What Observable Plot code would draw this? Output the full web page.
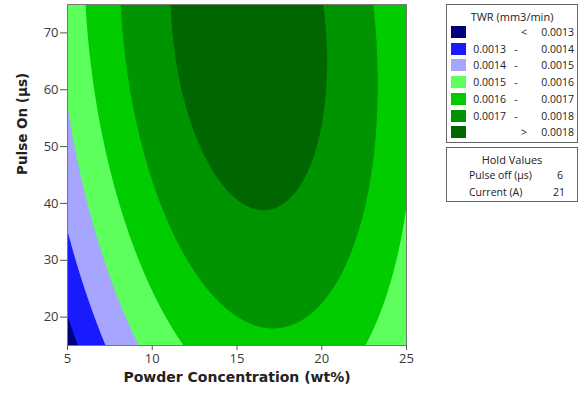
<!DOCTYPE html>
<html>
<head>
<meta charset="utf-8">
<script src="https://cdn.jsdelivr.net/npm/d3@7"></script>
<script src="https://cdn.jsdelivr.net/npm/@observablehq/plot@0.6"></script>
<style>
  html, body { margin: 0; padding: 0; background: #fff; }
  #chart { position: relative; width: 588px; height: 393px; font-family: "Open Sans", sans-serif; color: #222; }
  #chart svg { position: absolute; left: 0; top: 0; }
  .box { position: absolute; left: 446px; width: 132px; border: 1px solid #666; background: #fff; box-sizing: border-box; font-size: 10.5px; }
  .box .title { position: absolute; left: 0; right: 0; text-align: center; font-size: 11px; }
  .row { position: absolute; left: 0; right: 0; height: 12px; line-height: 12px; }
  .sw { position: absolute; left: 4px; top: 0; width: 15px; height: 12px; }
  .lo { position: absolute; right: 71px; text-align: right; }
  .op { position: absolute; left: 64px; width: 10px; text-align: center; }
  .hi { position: absolute; right: 3px; text-align: right; }
  .hname { position: absolute; left: 22px; }
  .hval { position: absolute; text-align: right; }
</style>
</head>
<body>
<div id="chart"></div>
<script>
// Factor ranges and tick labels
const concDomain = [5, 25];
const pulseOnDomain = [15, 75];
const xTicks = [5, 10, 15, 20, 25];
const yTicks = [20, 30, 40, 50, 60, 70];

// TWR contour levels (mm3/min) and band colours, lowest band first
const levels = [0.0013, 0.0014, 0.0015, 0.0016, 0.0017, 0.0018];
const bandColors = ["#00007c", "#1a1aff", "#a6a6ff", "#5cff5c", "#00cc00", "#009400", "#006600"];
const bandLow = ["", "0.0013", "0.0014", "0.0015", "0.0016", "0.0017", ""];
const bandOp = ["<", "-", "-", "-", "-", "-", ">"];
const bandHigh = ["0.0013", "0.0014", "0.0015", "0.0016", "0.0017", "0.0018", "0.0018"];

// Fitted quadratic response surface in coded units u = C - 15, v = T - 45
// terms: const, u, v, u², v², u·v
const modelCenter = [15, 45];
const modelCoefs = [1.81478e-3, 7.9436e-6, 3.1455e-6, -2.837e-6, -5.86e-8, -1.532e-7];

// Factors held constant
const holdNames = ["Pulse off (µs)", "Current (A)"];
const holdValues = [6, 21];

const twr = (x, y) => {
  const u = x - modelCenter[0], v = y - modelCenter[1];
  const [b0, b1, b2, b11, b22, b12] = modelCoefs;
  return b0 + b1 * u + b2 * v + b11 * u * u + b22 * v * v + b12 * u * v;
};

const plot = Plot.plot({
  width: 588,
  height: 393,
  marginTop: 4,
  marginLeft: 67,
  marginRight: 182,
  marginBottom: 48,
  style: { fontFamily: "Open Sans, sans-serif", fontSize: "13px", color: "#3a3a3a", background: "transparent" },
  x: { domain: concDomain },
  y: { domain: pulseOnDomain },
  color: { type: "threshold", domain: levels, range: bandColors },
  marks: [
    Plot.contour({
      fill: twr,
      x1: concDomain[0], x2: concDomain[1],
      y1: pulseOnDomain[0], y2: pulseOnDomain[1],
      thresholds: [0.001, ...levels],
      stroke: "none",
      pixelSize: 1
    }),
    Plot.frame({ stroke: "#777" }),
    Plot.axisX({ ticks: xTicks, tickSize: 5, tickPadding: 3, label: null, stroke: "#555" }),
    Plot.axisY({ ticks: yTicks, tickSize: 7, tickPadding: 2, label: null, stroke: "#555" }),
    Plot.text(["Powder Concentration (wt%)"], { frameAnchor: "bottom", dy: 36, fontFamily: "DejaVu Sans", fontWeight: "bold", fontSize: 14, fill: "#222" }),
    Plot.text(["Pulse On (µs)"], { frameAnchor: "left", dx: -45, rotate: -90, fontFamily: "DejaVu Sans", fontWeight: "bold", fontSize: 13.5, fill: "#222" })
  ]
});

const chart = document.getElementById("chart");
chart.appendChild(plot);

// Legend box for the contour bands
const legend = document.createElement("div");
legend.className = "box";
legend.style.top = "4px";
legend.style.height = "139px";
legend.innerHTML = `<div class="title" style="top:4px">TWR (mm3/min)</div>` +
  bandColors.map((c, i) => `<div class="row" style="top:${21 + i * 16.7}px">
      <div class="sw" style="background:${c}"></div>
      <span class="lo">${bandLow[i]}</span>
      <span class="op" style="${bandOp[i] === "-" ? "" : "left:72px"}">${bandOp[i]}</span>
      <span class="hi">${bandHigh[i]}</span>
    </div>`).join("");
chart.appendChild(legend);

// Hold values box
const hold = document.createElement("div");
hold.className = "box";
hold.style.top = "147px";
hold.style.height = "55px";
hold.innerHTML = `<div class="title" style="top:4px">Hold Values</div>` +
  holdNames.map((n, i) => `<div class="row" style="top:${21 + i * 17}px">
      <span class="hname">${n}</span>
      <span class="hval" style="right:${i === 0 ? 14 : 12}px">${holdValues[i]}</span>
    </div>`).join("");
chart.appendChild(hold);
</script>
</body>
</html>
